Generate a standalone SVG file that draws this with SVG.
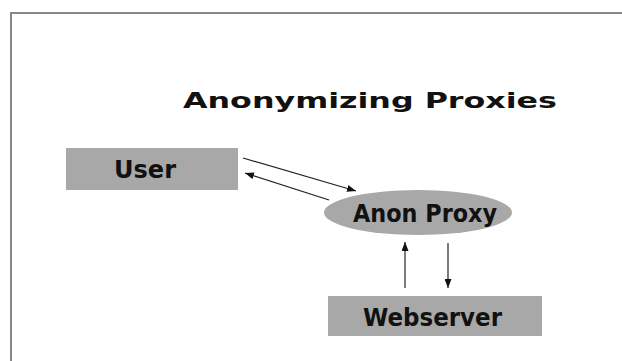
<svg xmlns="http://www.w3.org/2000/svg" width="622" height="361" viewBox="0 0 622 361">
<style>
.lbl{font-family:"Liberation Sans Narrow","DejaVu Sans Condensed","Arial Narrow",sans-serif;font-weight:bold;fill:#111;}
.box{fill:#a8a8a8;}
.con{stroke:#222;stroke-width:1.2;fill:none;marker-end:url(#ah);}
.frame{stroke:#888;stroke-width:2;fill:none;}
</style>
<defs>
<marker id="ah" markerUnits="userSpaceOnUse" markerWidth="9" markerHeight="7" refX="9" refY="3.5" orient="auto">
<path d="M0,0 L9,3.5 L0,7 z" fill="#111"/>
</marker>
</defs>
<rect width="622" height="361" fill="#fff"/>
<path class="frame" d="M11,361 L11,13 L622,13"/>
<text class="lbl" x="183" y="108" font-size="22" textLength="374" lengthAdjust="spacingAndGlyphs">Anonymizing Proxies</text>
<g id="user">
<rect class="box" x="66" y="148" width="172" height="42"/>
<text class="lbl" x="114" y="178" font-size="25" textLength="62" lengthAdjust="spacingAndGlyphs">User</text>
</g>
<g id="proxy">
<ellipse class="box" cx="418" cy="212.5" rx="94" ry="22.5"/>
<text class="lbl" x="353" y="222" font-size="25" textLength="144" lengthAdjust="spacingAndGlyphs">Anon Proxy</text>
</g>
<g id="webserver">
<rect class="box" x="328" y="296" width="214" height="40"/>
<text class="lbl" x="363" y="326" font-size="25" textLength="139" lengthAdjust="spacingAndGlyphs">Webserver</text>
</g>
<g id="connectors">
<line class="con" x1="243" y1="158" x2="356" y2="191"/>
<line class="con" x1="329" y1="200" x2="245" y2="173"/>
<line class="con" x1="405" y1="288" x2="405" y2="242"/>
<line class="con" x1="448" y1="243" x2="448" y2="288"/>
</g>
</svg>
